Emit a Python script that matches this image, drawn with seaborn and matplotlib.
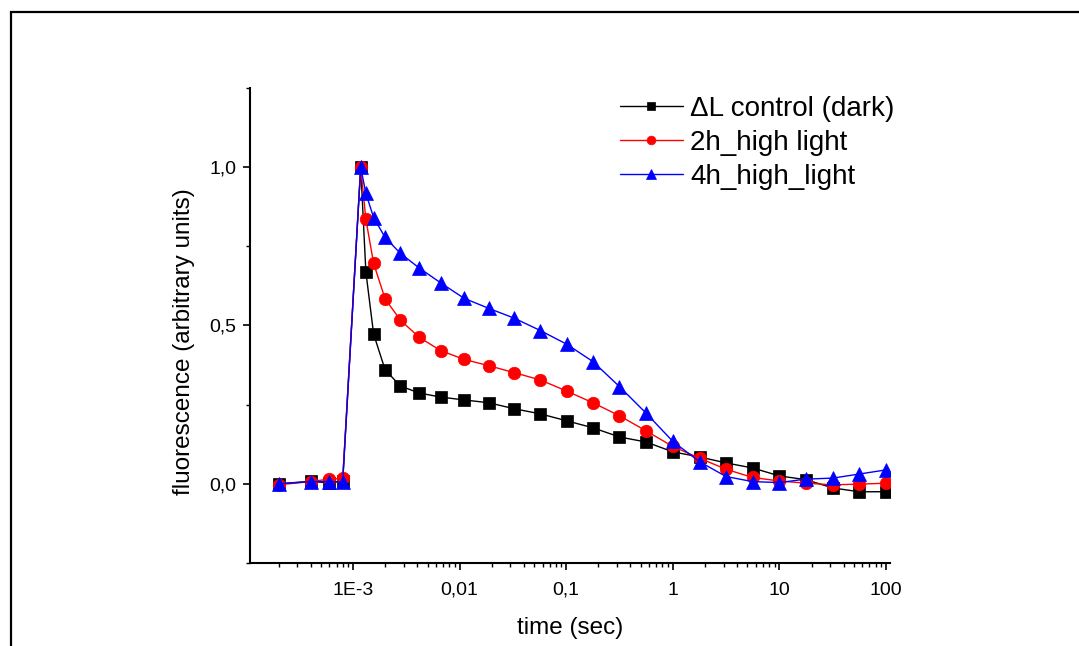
import numpy as np
import pandas as pd
import matplotlib
matplotlib.use("Agg")
import matplotlib.pyplot as plt
from matplotlib.patches import Rectangle
from matplotlib.ticker import FixedLocator, LogLocator, NullFormatter, FixedFormatter
import seaborn as sns

# ---- data ----
time_sec = [2.0e-4, 4.0e-4, 6.0e-4, 8.0e-4, 1.18e-3, 1.32e-3, 1.56e-3, 2.0e-3,
            2.78e-3, 4.16e-3, 6.62e-3, 0.011, 0.0188, 0.0326, 0.0572, 0.101,
            0.178, 0.316, 0.562, 1.0, 1.78, 3.16, 5.62, 10.0, 17.8, 31.6, 56.2, 100.0]
control_dark = [0.0, 0.008, 0.003, 0.01, 1.0,
                0.669, 0.473, 0.36, 0.309, 0.287, 0.274, 0.265, 0.256, 0.237, 0.221,
                0.199, 0.177, 0.148, 0.132, 0.101, 0.085, 0.066, 0.050, 0.025, 0.013,
                -0.013, -0.025, -0.025]
high_light_2h = [-0.003, 0.007, 0.015, 0.017, 1.0,
                 0.835, 0.696, 0.584, 0.517, 0.463, 0.421, 0.393, 0.373, 0.351, 0.328,
                 0.293, 0.256, 0.215, 0.167, 0.118, 0.081, 0.046, 0.020, 0.009, 0.002,
                 -0.003, -0.001, 0.002]
high_light_4h = [0.0, 0.007, 0.007, 0.005, 1.0,
                 0.917, 0.841, 0.778, 0.728, 0.682, 0.635, 0.586, 0.554, 0.523, 0.484,
                 0.441, 0.386, 0.307, 0.223, 0.134, 0.070, 0.023, 0.007, 0.004, 0.015,
                 0.018, 0.031, 0.044]
series_names = ["\u0394L control (dark)", "2h_high light", "4h_high_light"]
x_tick_values = [1e-3, 1e-2, 1e-1, 1, 10, 100]
x_tick_labels = ["1E-3", "0,01", "0,1", "1", "10", "100"]
y_tick_values = [0.0, 0.5, 1.0]
y_tick_labels = ["0,0", "0,5", "1,0"]

# ---- styling ----
sns.set_style("ticks")
plt.rcParams["font.family"] = ["Liberation Sans", "DejaVu Sans"]
plt.rcParams["text.color"] = "black"
plt.rcParams["axes.labelcolor"] = "black"
plt.rcParams["xtick.color"] = "black"
plt.rcParams["ytick.color"] = "black"

fig = plt.figure(figsize=(10.79, 6.46), dpi=100)
ax = fig.add_axes([250 / 1079, 1 - 563 / 646, 640 / 1079, 475 / 646])

series_vals = [control_dark, high_light_2h, high_light_4h]
colors = ["#000000", "#ff0000", "#0000ff"]
markers = ["s", "o", "^"]
msizes = [8.5, 9.0, 9.5]

for name, vals, c, m, ms in zip(series_names, series_vals, colors, markers, msizes):
    df = pd.DataFrame({"time": time_sec, "value": vals})
    sns.lineplot(data=df, x="time", y="value", ax=ax, color=c, marker=m,
                 markersize=ms, markeredgecolor=c, markeredgewidth=0.5,
                 linewidth=1.0, label=name, sort=False, errorbar=None)

ax.set_xscale("log")
ax.set_xlim(1.08e-4, 109)
ax.set_ylim(-0.25, 1.25)

ax.xaxis.set_major_locator(FixedLocator(x_tick_values))
ax.xaxis.set_major_formatter(FixedFormatter(x_tick_labels))
ax.xaxis.set_minor_locator(LogLocator(base=10, subs=np.arange(2, 10), numticks=20))
ax.xaxis.set_minor_formatter(NullFormatter())
ax.yaxis.set_major_locator(FixedLocator(y_tick_values))
ax.yaxis.set_major_formatter(FixedFormatter(y_tick_labels))
ax.yaxis.set_minor_locator(FixedLocator([-0.25, 0.25, 0.75, 1.25]))

for side in ["top", "right"]:
    ax.spines[side].set_visible(False)
for side in ["left", "bottom"]:
    ax.spines[side].set_linewidth(1.5)
    ax.spines[side].set_color("black")

ax.tick_params(which="major", direction="out", length=5, width=1.2, labelsize=14,
               colors="black")
ax.tick_params(axis="x", which="major", pad=8.5)
ax.tick_params(axis="y", which="major", pad=5)
ax.tick_params(which="minor", direction="out", length=3, width=1.0, colors="black")

ax.set_xlabel("time (sec)", fontsize=17.5, labelpad=13, color="black")
ax.set_ylabel("fluorescence (arbitrary units)", fontsize=17.5, labelpad=10.5,
              y=0.465, color="black")

leg = ax.legend(loc="upper left", bbox_to_anchor=(620 / 1079, 1 - 96 / 646),
                bbox_transform=fig.transFigure, frameon=False, fontsize=20,
                handlelength=2.25, handletextpad=0.27, labelspacing=0.29,
                borderpad=0, borderaxespad=0, markerscale=0.7)
for t in leg.get_texts():
    t.set_color("black")

fig.add_artist(Rectangle((11 / 1079, -0.2), 1.2, (646 - 12) / 646 + 0.2,
                         transform=fig.transFigure, fill=False, linewidth=1.6,
                         edgecolor="black", clip_on=False))

fig.savefig("out.png", dpi=100)
